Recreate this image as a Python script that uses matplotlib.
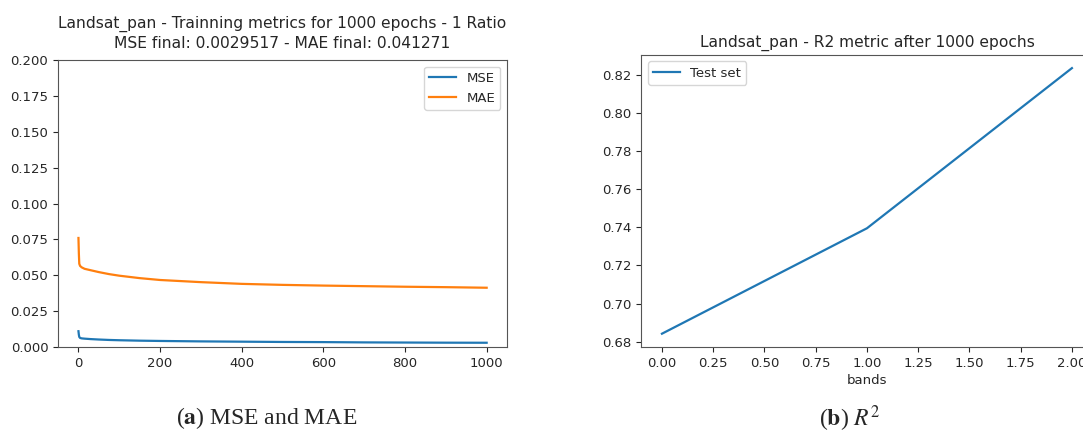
import matplotlib
matplotlib.use("Agg")
import matplotlib.pyplot as plt

# ---------- data ---------- #

# training curves, sampled epochs
epochs = [0, 1, 2, 4, 8, 15, 30, 50, 75, 100, 150, 200, 300, 400, 500, 600, 700, 800, 900, 1000]
mse = [0.0110, 0.0085, 0.0070, 0.0063, 0.0060, 0.0058, 0.0055, 0.0052, 0.0049, 0.0047,
       0.0044, 0.0042, 0.0039, 0.0037, 0.0035, 0.0034, 0.0032, 0.0031, 0.0030, 0.00295]
mae = [0.0760, 0.0650, 0.0580, 0.0565, 0.0555, 0.0545, 0.0535, 0.0522, 0.0508, 0.0497,
       0.0480, 0.0467, 0.0452, 0.0440, 0.0433, 0.0428, 0.0424, 0.0420, 0.0417, 0.0413]

# R2 per band
bands = [0, 1, 2]
r2 = [0.6842, 0.7395, 0.8235]

MSE_FINAL = "0.0029517"
MAE_FINAL = "0.041271"

# ---------- plot ---------- #

TXT = "#262626"
plt.rcParams["font.family"] = ["DejaVu Sans"]
plt.rcParams["font.size"] = 9.5
plt.rcParams["text.color"] = TXT
plt.rcParams["axes.labelcolor"] = TXT
plt.rcParams["xtick.color"] = TXT
plt.rcParams["ytick.color"] = TXT
plt.rcParams["axes.edgecolor"] = "#555555"
plt.rcParams["mathtext.fontset"] = "stix"

fig = plt.figure(figsize=(10.83, 4.38), dpi=100)

# (a) MSE / MAE
ax1 = fig.add_axes([0.0536, 0.2078, 0.4146, 0.655])
ax1.plot(epochs, mse, color="#1f77b4", lw=1.6, label="MSE")
ax1.plot(epochs, mae, color="#ff7f0e", lw=1.6, label="MAE")
ax1.set_ylim(0, 0.2)
ax1.set_yticks([0, 0.025, 0.05, 0.075, 0.1, 0.125, 0.15, 0.175, 0.2])
ax1.set_title(
    "Landsat_pan - Trainning metrics for 1000 epochs - 1 Ratio\n"
    f"MSE final: {MSE_FINAL} - MAE final: {MAE_FINAL}",
    fontsize=11.2, pad=9, linespacing=1.3,
)
ax1.legend(loc="upper right")

# (b) R2
ax2 = fig.add_axes([0.5923, 0.2078, 0.4164, 0.667])
ax2.plot(bands, r2, color="#1f77b4", lw=1.6, label="Test set")
ax2.set_xticks([0, 0.25, 0.5, 0.75, 1.0, 1.25, 1.5, 1.75, 2.0])
ax2.set_yticks([0.68, 0.70, 0.72, 0.74, 0.76, 0.78, 0.80, 0.82])
ax2.set_xlabel("bands", labelpad=3)
ax2.set_title("Landsat_pan - R2 metric after 1000 epochs", fontsize=11.2, pad=6)
ax2.legend(loc="upper left")

# sub-captions
fig.text(0.246, 0.045, r"($\mathbf{a}$) MSE and MAE", fontsize=17,
         family="Liberation Serif", ha="center", va="center")
fig.text(0.785, 0.045, r"($\mathbf{b}$) $R^2$", fontsize=17,
         family="Liberation Serif", ha="center", va="center")

fig.savefig("out.png", dpi=100)
